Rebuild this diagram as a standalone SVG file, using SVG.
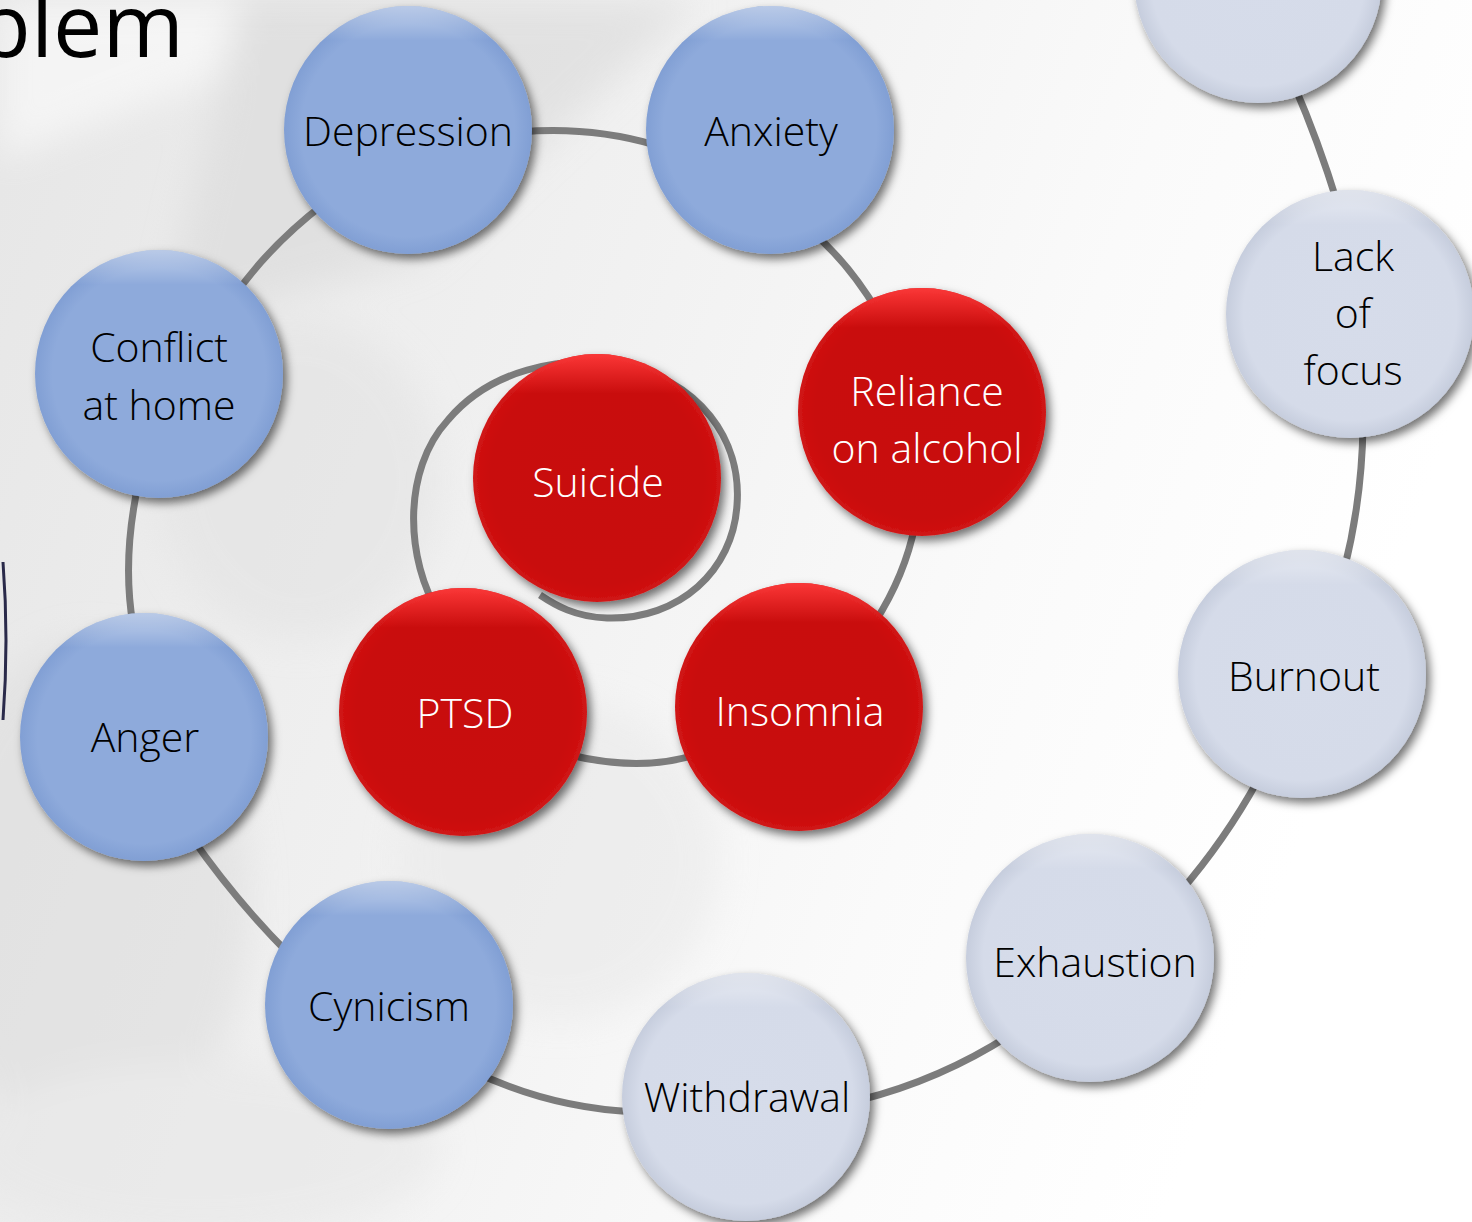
<svg xmlns="http://www.w3.org/2000/svg" width="1472" height="1222" viewBox="0 0 1472 1222">
<defs>
<linearGradient id="bg" x1="0" y1="0" x2="1" y2="0.3">
<stop offset="0" stop-color="#e6e6e6"/>
<stop offset="0.45" stop-color="#f1f1f1"/>
<stop offset="0.75" stop-color="#fafafa"/>
<stop offset="1" stop-color="#ffffff"/>
</linearGradient>
<radialGradient id="gBlue" cx="0.5" cy="0.5" r="0.5">
<stop offset="0" stop-color="#8eaadb"/>
<stop offset="0.86" stop-color="#8eaadb"/>
<stop offset="1" stop-color="#819fd4"/>
</radialGradient>
<radialGradient id="gRed" cx="0.5" cy="0.5" r="0.5">
<stop offset="0" stop-color="#c80808"/>
<stop offset="0.86" stop-color="#c90a0a"/>
<stop offset="1" stop-color="#d01414"/>
</radialGradient>
<radialGradient id="gLight" cx="0.5" cy="0.5" r="0.5">
<stop offset="0" stop-color="#d6dcea"/>
<stop offset="0.86" stop-color="#d5dbe9"/>
<stop offset="1" stop-color="#c6cddd"/>
</radialGradient>
<linearGradient id="hiW" x1="0" y1="0" x2="0" y2="1">
<stop offset="0" stop-color="#ffffff" stop-opacity="0.45"/>
<stop offset="0.14" stop-color="#ffffff" stop-opacity="0"/>
</linearGradient>
<linearGradient id="hiR" x1="0" y1="0" x2="0" y2="1">
<stop offset="0" stop-color="#ff3b3b" stop-opacity="0.9"/>
<stop offset="0.16" stop-color="#ff3b3b" stop-opacity="0"/>
</linearGradient>
<filter id="sh" x="-20%" y="-20%" width="145%" height="145%">
<feDropShadow dx="4" dy="5" stdDeviation="5" flood-color="#000" flood-opacity="0.55"/>
</filter>
<filter id="blur" x="-30%" y="-30%" width="160%" height="160%">
<feGaussianBlur stdDeviation="18"/>
</filter>
</defs>
<style>
.conn{fill:none;stroke:#7c7c7c;stroke-width:7;stroke-linecap:butt}
.blue{fill:url(#gBlue)}
.red{fill:url(#gRed)}
.light{fill:url(#gLight)}
.hw{fill:url(#hiW)}
.hr{fill:url(#hiR)}
.lbl{font-family:"Open Sans","Noto Sans","Liberation Sans",sans-serif;font-weight:300;font-size:41px;text-anchor:middle}
.dk{fill:#000}
.wh{fill:#fff}
</style>
<rect width="1472" height="1222" fill="url(#bg)"/>
<g id="background-photo" opacity="0.55" filter="url(#blur)">
<path d="M0,160 L260,60 L520,0 L0,0 Z" fill="#ffffff"/>
<path d="M240,0 L700,0 L420,260 L160,330 Z" fill="#d8d8d8"/>
<ellipse cx="90" cy="900" rx="160" ry="260" fill="#dcdcdc"/>
<ellipse cx="560" cy="860" rx="160" ry="160" fill="#e8e8e8"/>
<ellipse cx="300" cy="480" rx="140" ry="160" fill="#e2e2e2"/>
<ellipse cx="200" cy="1150" rx="240" ry="90" fill="#e6e6e6"/>
</g>
<text x="184" y="57" font-family="Open Sans, Noto Sans, Liberation Sans, sans-serif" font-size="88" text-anchor="end" fill="#000">blem</text>
<path d="M3,562 Q9,640 3,720" fill="none" stroke="#2a2a4a" stroke-width="3"/>
<g id="connectors">
<path class="conn" d="M1294,85 Q1318,140 1338,205"/>
<path class="conn" d="M1363,425 Q1362,500 1344,570"/>
<path class="conn" d="M1258,780 Q1225,840 1180,892"/>
<path class="conn" d="M1010,1035 Q940,1080 860,1100"/>
<path class="conn" d="M635,1112 Q550,1108 475,1072"/>
<path class="conn" d="M290,955 Q235,900 190,835"/>
<path class="conn" d="M133,625 Q122,560 138,485"/>
<path class="conn" d="M235,295 Q270,245 325,203"/>
<path class="conn" d="M520,132 Q590,126 655,145"/>
<path class="conn" d="M812,232 Q848,262 878,312"/>
<path class="conn" d="M915,525 Q905,575 875,622"/>
<path class="conn" d="M695,755 Q640,772 570,755"/>
<path class="conn" d="M440,615 C405,560 402,470 448,420 C490,370 560,355 620,365 C700,380 742,440 737,505 C733,570 680,620 607,618 C575,617 555,605 540,595"/>
</g>
<g id="node-top" filter="url(#sh)"><circle class="light" cx="1258" cy="-21" r="124"/><circle class="hw" cx="1258" cy="-21" r="124"/></g>
<g id="node-depression"><g filter="url(#sh)"><circle class="blue" cx="408" cy="130" r="124"/></g><circle class="hw" cx="408" cy="130" r="124"/><text class="lbl dk" x="408" y="146">Depression</text></g>
<g id="node-anxiety"><g filter="url(#sh)"><circle class="blue" cx="770" cy="130" r="124"/></g><circle class="hw" cx="770" cy="130" r="124"/><text class="lbl dk" x="771" y="146">Anxiety</text></g>
<g id="node-conflict"><g filter="url(#sh)"><circle class="blue" cx="159" cy="374" r="124"/></g><circle class="hw" cx="159" cy="374" r="124"/><text class="lbl dk" x="159" y="362">Conflict</text><text class="lbl dk" x="159" y="420">at home</text></g>
<g id="node-anger"><g filter="url(#sh)"><circle class="blue" cx="144" cy="737" r="124"/></g><circle class="hw" cx="144" cy="737" r="124"/><text class="lbl dk" x="145" y="752">Anger</text></g>
<g id="node-cynicism"><g filter="url(#sh)"><circle class="blue" cx="389" cy="1005" r="124"/></g><circle class="hw" cx="389" cy="1005" r="124"/><text class="lbl dk" x="389" y="1021">Cynicism</text></g>
<g id="node-withdrawal"><g filter="url(#sh)"><circle class="light" cx="746" cy="1097" r="124"/></g><circle class="hw" cx="746" cy="1097" r="124"/><text class="lbl dk" x="747" y="1112">Withdrawal</text></g>
<g id="node-exhaustion"><g filter="url(#sh)"><circle class="light" cx="1090" cy="958" r="124"/></g><circle class="hw" cx="1090" cy="958" r="124"/><text class="lbl dk" x="1095" y="977">Exhaustion</text></g>
<g id="node-burnout"><g filter="url(#sh)"><circle class="light" cx="1302" cy="674" r="124"/></g><circle class="hw" cx="1302" cy="674" r="124"/><text class="lbl dk" x="1304" y="691">Burnout</text></g>
<g id="node-lackfocus"><g filter="url(#sh)"><circle class="light" cx="1350" cy="314" r="124"/></g><circle class="hw" cx="1350" cy="314" r="124"/><text class="lbl dk" x="1353" y="271">Lack</text><text class="lbl dk" x="1353" y="328">of</text><text class="lbl dk" x="1353" y="385">focus</text></g>
<g id="node-reliance"><g filter="url(#sh)"><circle class="red" cx="922" cy="412" r="124"/></g><circle class="hr" cx="922" cy="412" r="124"/><text class="lbl wh" x="927" y="406">Reliance</text><text class="lbl wh" x="927" y="463">on alcohol</text></g>
<g id="node-suicide"><g filter="url(#sh)"><circle class="red" cx="597" cy="478" r="124"/></g><circle class="hr" cx="597" cy="478" r="124"/><text class="lbl wh" x="598" y="497">Suicide</text></g>
<g id="node-ptsd"><g filter="url(#sh)"><circle class="red" cx="463" cy="712" r="124"/></g><circle class="hr" cx="463" cy="712" r="124"/><text class="lbl wh" x="465" y="728">PTSD</text></g>
<g id="node-insomnia"><g filter="url(#sh)"><circle class="red" cx="799" cy="707" r="124"/></g><circle class="hr" cx="799" cy="707" r="124"/><text class="lbl wh" x="800" y="726">Insomnia</text></g>
</svg>
